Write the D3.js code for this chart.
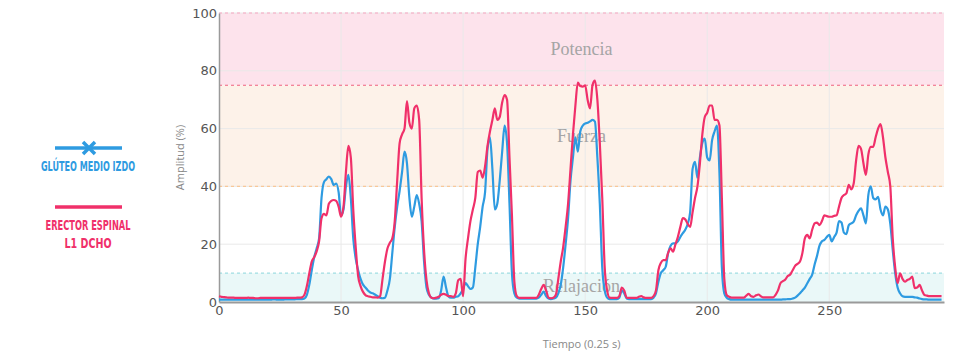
<!DOCTYPE html>
<html>
<head>
<meta charset="utf-8">
<script src="https://cdn.jsdelivr.net/npm/d3@7"></script>
<style>
    html, body { margin: 0; padding: 0; background: #fff; }
    svg { display: block; }
    .tick-label { font-family: "DejaVu Sans", "Open Sans", sans-serif; font-size: 13px; fill: #555; }
    .axis-title { font-family: "Open Sans", "DejaVu Sans", sans-serif; font-size: 11px; fill: #888; }
    .band-label { font-family: "Liberation Serif", "DejaVu Serif", serif; font-size: 18px; fill: #a5a5a5; }
    .legend-text { font-family: "DejaVu Sans Condensed", "Roboto", sans-serif; font-weight: bold; font-size: 14px; }
</style>
</head>
<body>
<svg id="chart" width="960" height="364"></svg>
<script>
'use strict';

// series names (legend)
const seriesNames = ['GLÚTEO MEDIO IZDO', 'ERECTOR ESPINAL|L1 DCHO'];

// amplitude (%) per sample, one sample every 0.25 s, starting at 0
const gluteo = [
    0.8, 0.8, 0.8, 0.8, 0.8, 0.8, 0.8, 0.8, 0.8, 0.8,
    0.8, 0.8, 0.8, 0.8, 0.8, 0.8, 0.8, 0.8, 0.8, 0.8,
    0.8, 0.8, 0.9, 0.9, 0.8, 0.8, 0.8, 0.9, 0.9, 0.9,
    0.9, 0.9, 1.0, 1.0, 1.0, 1.2, 2.5, 6, 11, 15.5,
    18.5, 22, 36, 41.5, 42.5, 43.4, 42.5, 40.5, 41, 38,
    30, 32, 40, 44, 36, 22, 15, 11, 8, 6,
    5, 4, 3.3, 3, 2.5, 2, 1.5, 1.3, 1.5, 4,
    8, 17, 26, 33, 38.5, 45, 52, 48, 36, 29.5,
    33, 37, 34, 28, 14, 5, 2.5, 1.5, 1.2, 1.2,
    1.3, 4, 8.8, 5, 2, 1.5, 1.5, 1.8, 2, 3,
    4.5, 6.5, 5.5, 4.5, 5, 12, 20, 26, 33, 38,
    53, 57, 46, 32, 34, 42, 52, 61, 55, 34,
    10, 3, 1.5, 1.2, 1.2, 1.2, 1.2, 1.2, 1.2, 1.2,
    1.2, 1.5, 2.5, 3.6, 2, 1.2, 1, 1.2, 1.5, 3,
    6, 12, 20, 29, 42, 50, 57, 52, 59, 61,
    61.8, 62, 62.5, 63, 62.4, 50, 34, 12, 4, 1.5,
    1, 1, 1, 1, 1.5, 4, 3, 1.2, 1, 1,
    1, 1, 1, 1, 1, 1, 1, 1, 1.5, 3,
    7, 10, 11, 12.2, 17, 19.5, 20.3, 20.3, 21, 22.5,
    23.8, 25, 27, 31, 46, 48.5, 43, 50, 55, 56.5,
    50, 49, 56, 59, 61, 45, 12, 3, 1.5, 1,
    0.8, 0.8, 0.8, 0.8, 0.8, 0.8, 0.8, 0.8, 0.8, 0.8,
    0.8, 0.8, 0.8, 0.8, 0.8, 0.8, 0.8, 0.8, 0.8, 0.8,
    0.8, 0.9, 0.9, 1, 1, 1.2, 1.5, 2.2, 3, 4,
    5, 6.5, 8, 9.5, 13, 16, 19.5, 21, 21.5, 22.5,
    23.2, 21, 22.5, 24, 28, 27.5, 24, 23.5, 26.6, 27.2,
    27.8, 30, 31.5, 32.4, 30, 27.2, 37, 40, 36, 35.5,
    36.4, 32, 30, 33, 32, 27, 18, 10, 5, 3,
    2, 1.8, 1.8, 1.8, 1.8, 1.6, 1.5, 1.2, 1, 0.9,
    0.9, 0.8, 0.8, 0.8, 0.8, 0.8, 0.8
];

const erector = [
    2.0, 1.8, 1.7, 1.6, 1.5, 1.5, 1.5, 1.4, 1.4, 1.4,
    1.4, 1.4, 1.5, 1.4, 1.4, 1.3, 1.3, 1.4, 1.4, 1.4,
    1.4, 1.4, 1.4, 1.4, 1.4, 1.4, 1.4, 1.4, 1.4, 1.4,
    1.4, 1.4, 1.5, 1.5, 1.6, 2.5, 5.5, 10, 14, 15.5,
    17.5, 21, 29, 30.5, 30, 34, 35, 35.3, 35, 33,
    29.5, 33, 45, 54, 50, 32, 19, 9, 5.5, 3.5,
    2.4, 2, 1.8, 1.6, 1.6, 1.5, 2, 8, 14, 18.5,
    20.5, 22, 28, 42, 55, 58, 60, 69.5, 62, 60,
    67, 68, 63, 36, 18, 7.6, 3, 1.5, 1.3, 1.5,
    1.8, 2.5, 2.8, 2.5, 2, 2, 1.8, 3, 7.5, 8,
    2, 15, 22, 28, 32, 36, 45, 45.5, 43, 47,
    54, 59, 63, 67, 63, 64, 69, 71.6, 70, 50,
    30, 7, 2, 1.4, 1.4, 1.4, 1.4, 1.4, 1.4, 1.4,
    1.4, 2.5, 4.5, 5.9, 4, 1.5, 1.3, 1.5, 2.5, 8,
    14, 19, 26, 34, 46, 58, 68, 75.9, 74.7, 74.5,
    75, 70, 67, 75, 76.6, 70, 55, 36, 12, 4,
    1.5, 1.4, 1.4, 1.4, 2, 5, 4, 1.5, 1.4, 1.4,
    1.4, 1.4, 1.8, 2, 1.6, 1.4, 1.4, 1.4, 2, 4,
    11, 13.5, 14.5, 14.5, 17, 18.6, 17.4, 20, 22.6, 26,
    29, 28.6, 27, 26, 31, 36, 40, 48, 58, 64,
    65.5, 68, 68, 63, 63, 61.2, 36, 8, 2.4, 1.8,
    1.5, 1.5, 1.5, 1.5, 1.5, 1.5, 2.2, 2.8, 2, 1.8,
    2.3, 2.6, 2, 1.6, 1.6, 1.6, 1.6, 1.6, 2.5, 4,
    6.5, 7.2, 7.8, 9, 9.5, 11, 12.5, 13.2, 14, 17,
    22, 23.2, 22, 25, 27.2, 27.5, 26.6, 28, 30, 29.7,
    29.5, 29.5, 29.8, 30, 33, 36, 37, 37.6, 40.5, 39,
    41, 49, 54, 53, 48, 44, 51, 53.7, 53.7, 57,
    60, 61.6, 57, 50, 45, 40, 22, 12, 6.5, 9.9,
    8, 7, 7.6, 8, 8.8, 4.8, 5, 5.9, 4, 2.4,
    2.2, 2, 2, 2, 2, 2, 2
];

// zones of the amplitude axis
const zoneNames = ['Potencia', 'Fuerza', 'Relajación'];
const zoneFrom = [75, 40, 0];
const zoneTo = [100, 75, 10];

const xTicks = [0, 50, 100, 150, 200, 250];
const yTicks = [0, 20, 40, 60, 80, 100];

const colors = {
    gluteo: '#2e9be1',
    erector: '#f0306a',
    zoneFill: ['#fde3ec', '#fdf2e9', '#eaf8f8'],
    zoneLine: ['#f7a4c0', '#f0607f', '#f8c899', '#9fdde2'],
    grid: '#e9e9e9',
    axis: '#9a9a9a'
};

const svg = d3.select('#chart');
const plot = { left: 219, right: 944, top: 13, bottom: 302 };

const x = d3.scaleLinear().domain([0, 297]).range([plot.left, plot.right]);
const y = d3.scaleLinear().domain([0, 100]).range([plot.bottom, plot.top]);

// zone bands
zoneNames.forEach((name, i) => {
    svg.append('rect')
        .attr('x', plot.left)
        .attr('y', y(zoneTo[i]))
        .attr('width', plot.right - plot.left)
        .attr('height', y(zoneFrom[i]) - y(zoneTo[i]))
        .attr('fill', colors.zoneFill[i]);
});

// grid
svg.append('g')
    .selectAll('line')
    .data(yTicks.filter(t => t > 0))
    .join('line')
    .attr('x1', plot.left).attr('x2', plot.right)
    .attr('y1', d => y(d)).attr('y2', d => y(d))
    .attr('stroke', colors.grid)
    .attr('stroke-width', 1);

svg.append('g')
    .selectAll('line')
    .data(xTicks.filter(t => t > 0))
    .join('line')
    .attr('x1', d => x(d)).attr('x2', d => x(d))
    .attr('y1', plot.top).attr('y2', plot.bottom)
    .attr('stroke', colors.grid)
    .attr('stroke-width', 1);

// dashed zone limits
[100, 75, 40, 10].forEach((v, i) => {
    svg.append('line')
        .attr('x1', plot.left).attr('x2', plot.right)
        .attr('y1', y(v)).attr('y2', y(v))
        .attr('stroke', colors.zoneLine[i])
        .attr('stroke-width', 1.2)
        .attr('stroke-dasharray', '3,3');
});

// zone labels
const zoneLabelY = [87.5, 57.5, 5.5];
zoneNames.forEach((name, i) => {
    svg.append('text')
        .attr('class', 'band-label')
        .attr('x', (plot.left + plot.right) / 2)
        .attr('y', y(zoneLabelY[i]))
        .attr('dy', '0.35em')
        .attr('text-anchor', 'middle')
        .text(name);
});

// axes
const xAxis = svg.append('g')
    .attr('transform', `translate(0,${plot.bottom})`)
    .call(d3.axisBottom(x).tickValues(xTicks).tickSize(0).tickPadding(4));
xAxis.select('.domain').attr('stroke', colors.axis).attr('stroke-width', 2);
xAxis.selectAll('text').attr('class', 'tick-label').attr('fill', null);

const yAxis = svg.append('g')
    .attr('transform', `translate(${plot.left},0)`)
    .call(d3.axisLeft(y).tickValues(yTicks).tickSize(0).tickPadding(2));
yAxis.select('.domain').attr('stroke', colors.axis).attr('stroke-width', 1.5);
yAxis.selectAll('text').attr('class', 'tick-label').attr('fill', null);

svg.append('text')
    .attr('class', 'axis-title')
    .attr('transform', `translate(184,${(plot.top + plot.bottom) / 2}) rotate(-90)`)
    .attr('text-anchor', 'middle')
    .text('Amplitud (%)');

svg.append('text')
    .attr('class', 'axis-title')
    .attr('x', (plot.left + plot.right) / 2)
    .attr('y', 348)
    .attr('text-anchor', 'middle')
    .text('Tiempo (0.25 s)');

// lines
const line = d3.line()
    .x((d, i) => x(i))
    .y(d => y(d))
    .curve(d3.curveMonotoneX);

svg.append('path')
    .datum(gluteo)
    .attr('d', line)
    .attr('fill', 'none')
    .attr('stroke', colors.gluteo)
    .attr('stroke-width', 2.2);

svg.append('path')
    .datum(erector)
    .attr('d', line)
    .attr('fill', 'none')
    .attr('stroke', colors.erector)
    .attr('stroke-width', 2.2);

// legend
const legend = svg.append('g');
const legendColors = [colors.gluteo, colors.erector];
const legendY = [148, 207];
// widths of the condensed caption lines
const legendWidths = [[94], [85, 47]];
seriesNames.forEach((name, i) => {
    legend.append('line')
        .attr('x1', 55).attr('x2', 122)
        .attr('y1', legendY[i]).attr('y2', legendY[i])
        .attr('stroke', legendColors[i])
        .attr('stroke-width', 3.5);
    name.split('|').forEach((part, j) => {
        legend.append('text')
            .attr('class', 'legend-text')
            .attr('x', 88)
            .attr('y', legendY[i] + 23 + j * 18)
            .attr('text-anchor', 'middle')
            .attr('textLength', legendWidths[i][j])
            .attr('lengthAdjust', 'spacingAndGlyphs')
            .attr('fill', legendColors[i])
            .text(part);
    });
});

// cross marker on the first legend entry
legend.append('path')
    .attr('d', 'M83,142L95,154M95,142L83,154')
    .attr('stroke', colors.gluteo)
    .attr('stroke-width', 3.5);
</script>
</body>
</html>
